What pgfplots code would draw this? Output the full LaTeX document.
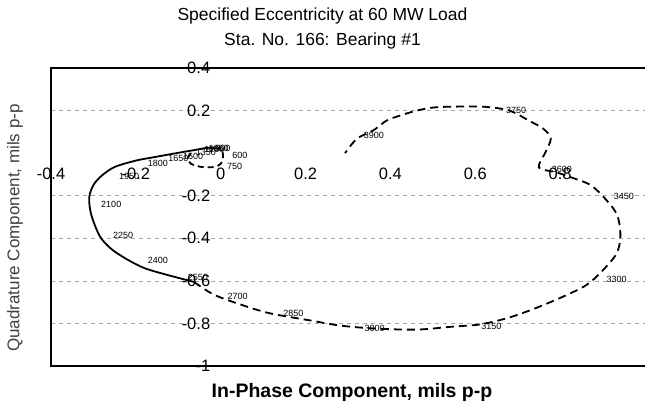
\documentclass[border=0pt]{standalone}
\usepackage{fontspec}
\setmainfont{Liberation Sans}
\usepackage{pgfplots}
\pgfplotsset{compat=1.18}
\newcommand{\lab}{\fontsize{9}{9}\selectfont}
\begin{document}
\begin{tikzpicture}
\path[use as bounding box] (-51pt,-40pt) rectangle (594pt,366pt);
\begin{axis}[
  at={(0,0)}, anchor=south west,
  scale only axis, width=594pt, height=298pt,
  xmin=-0.4, xmax=1.0, ymin=-1, ymax=0.4,
  axis lines=middle, axis line style={draw=none},
  major tick length=0pt,
  xtick={-0.4,-0.2,0,0.2,0.4,0.6,0.8},
  ytick={-1,-0.8,-0.6,-0.4,-0.2,0.2,0.4},
  hide obscured x ticks=false, hide obscured y ticks=false,
  ymajorgrids, grid style={gray!70, dash pattern=on 4pt off 4pt, line width=0.5pt},
  /pgf/number format/assume math mode=true,
  ticklabel style={font=\fontsize{16.5}{16.5}\selectfont},
  xticklabel style={yshift=-11pt},
  yticklabel style={xshift=-7pt},
  clip=false,
]
\draw[line width=1.3pt] (rel axis cs:1,1) -- (rel axis cs:0,1) -- (rel axis cs:0,0) -- (rel axis cs:1,0);
% small dashed loop near origin
\addplot[black, line width=1.8pt, smooth, dash pattern=on 6pt off 4pt] coordinates {
(-0.07,0.0) (-0.078,-0.025) (-0.07,-0.05) (-0.045,-0.065) (-0.015,-0.065) (0.0,-0.05) (0.005,-0.025) (0.005,0.0) (0.0,0.02)};
% solid section
\addplot[black, line width=1.8pt, smooth] coordinates {
(0.0,0.02) (-0.03,0.025) (-0.06,0.015) (-0.09,0.005) (-0.124,-0.007) (-0.16,-0.02) (-0.2,-0.035) (-0.25,-0.065) (-0.28,-0.105) (-0.3,-0.15) (-0.31,-0.21) (-0.305,-0.29) (-0.285,-0.39) (-0.258,-0.45) (-0.22,-0.5) (-0.18,-0.54) (-0.13,-0.57) (-0.063,-0.605)};
% dashed section
\addplot[black, line width=1.8pt, smooth, dash pattern=on 8pt off 5pt] coordinates {
(-0.063,-0.605) (-0.016,-0.665) (0.054,-0.716) (0.117,-0.753) (0.211,-0.786) (0.281,-0.81) (0.363,-0.824) (0.462,-0.829) (0.547,-0.815) (0.61,-0.805) (0.672,-0.777) (0.727,-0.74) (0.797,-0.683) (0.86,-0.622) (0.898,-0.556) (0.933,-0.472) (0.942,-0.392) (0.937,-0.307) (0.92,-0.246) (0.874,-0.153) (0.82,-0.11) (0.79,-0.09) (0.755,-0.075) (0.75,-0.055) (0.766,0.007) (0.778,0.07) (0.76,0.115) (0.727,0.152) (0.68,0.2) (0.62,0.218) (0.539,0.218) (0.5,0.214) (0.462,0.2) (0.422,0.176) (0.391,0.153) (0.359,0.106) (0.321,0.068) (0.293,0.0)};
% speed labels
\node[font=\lab] at (axis cs:0.045,-0.012) {600};
\node[font=\lab] at (axis cs:0.033,-0.062) {750};
\node[font=\lab] at (axis cs:0.005,0.02) {900};
\node[font=\lab] at (axis cs:-0.005,0.022) {1050};
\node[font=\lab] at (axis cs:-0.015,0.018) {1200};
\node[font=\lab] at (axis cs:-0.035,0.005) {1350};
\node[font=\lab] at (axis cs:-0.065,-0.015) {1500};
\node[font=\lab] at (axis cs:-0.1,-0.025) {1650};
\node[font=\lab] at (axis cs:-0.148,-0.049) {1800};
\node[font=\lab] at (axis cs:-0.216,-0.11) {1950};
\node[font=\lab] at (axis cs:-0.258,-0.242) {2100};
\node[font=\lab] at (axis cs:-0.23,-0.387) {2250};
\node[font=\lab] at (axis cs:-0.148,-0.505) {2400};
\node[font=\lab] at (axis cs:-0.054,-0.585) {2550};
\node[font=\lab] at (axis cs:0.04,-0.673) {2700};
\node[font=\lab] at (axis cs:0.171,-0.754) {2850};
\node[font=\lab] at (axis cs:0.363,-0.824) {3000};
\node[font=\lab] at (axis cs:0.638,-0.815) {3150};
\node[font=\lab] at (axis cs:0.933,-0.594) {3300};
\node[font=\lab] at (axis cs:0.95,-0.204) {3450};
\node[font=\lab] at (axis cs:0.804,-0.078) {3600};
\node[font=\lab] at (axis cs:0.696,0.2) {3750};
\node[font=\lab] at (axis cs:0.361,0.082) {3900};
\end{axis}
\node[align=center, font=\fontsize{17.5}{25}\selectfont] at (271.5pt,338pt) {Specified Eccentricity at 60 MW Load\\Sta. No. 166: Bearing \#1};
\node[font=\fontsize{19.5}{20}\selectfont\bfseries] at (301pt,-26pt) {In-Phase Component, mils p-p};
\node[rotate=90, font=\fontsize{17}{17}\selectfont, text=black!75] at (-36pt,138pt) {Quadrature Component, mils p-p};
\end{tikzpicture}
\end{document}
